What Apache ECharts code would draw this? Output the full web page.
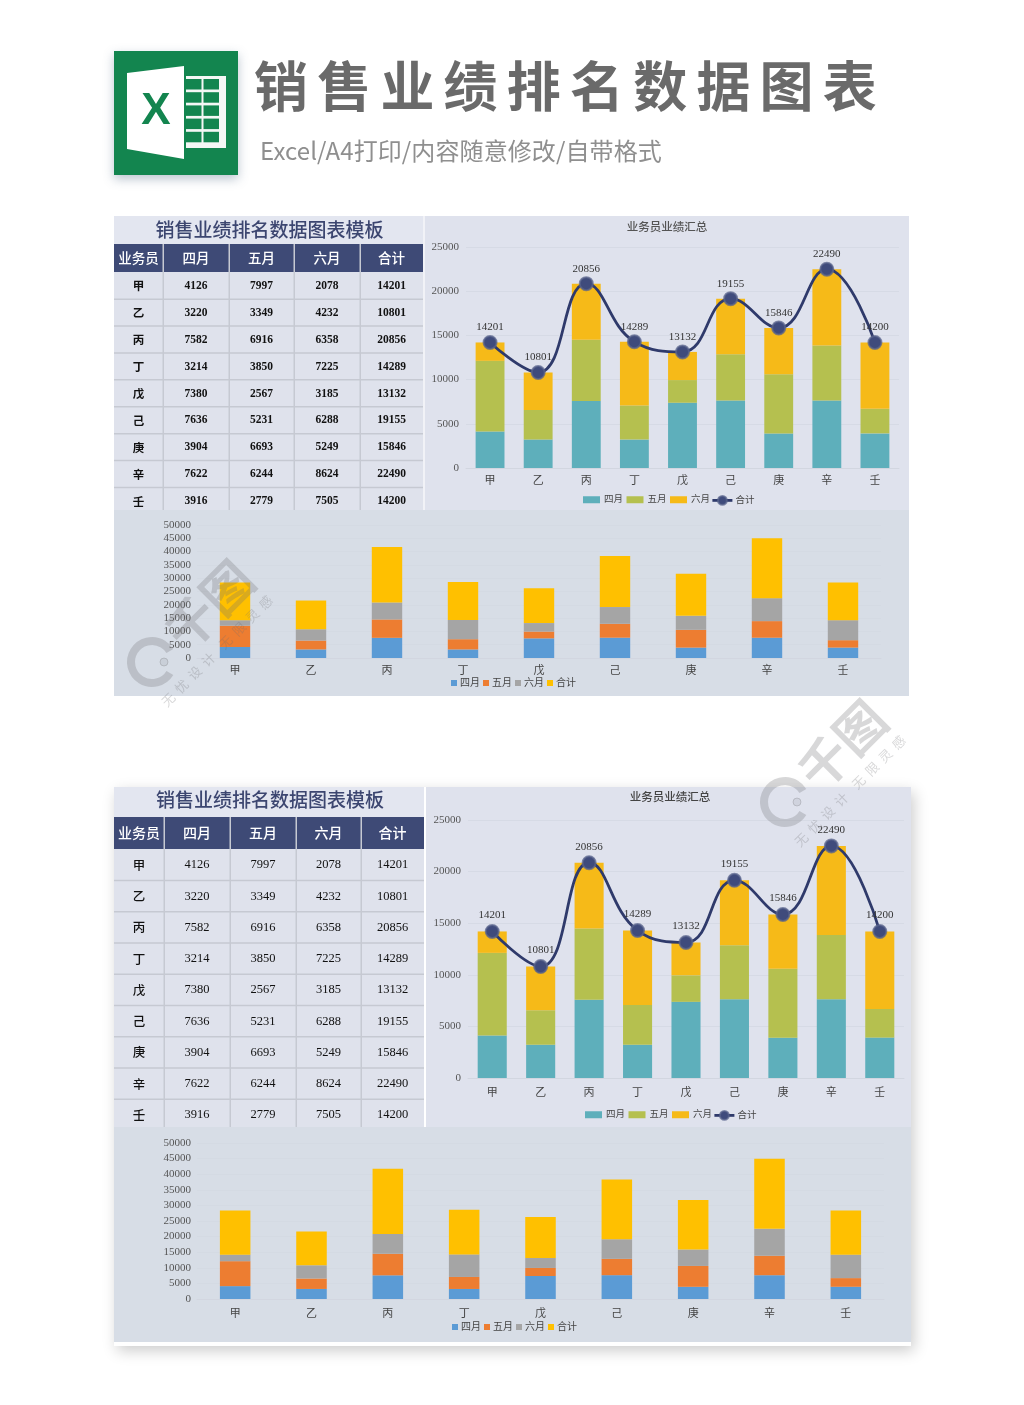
<!DOCTYPE html>
<html lang="zh">
<head>
<meta charset="utf-8">
<title>销售业绩排名数据图表</title>
<style>
html,body{margin:0;padding:0;background:#fff;}
#wrap{position:relative;width:1024px;height:1405px;overflow:hidden;}
#chart{position:absolute;left:0;top:0;width:1024px;height:1405px;}
h1{position:absolute;left:254px;top:46px;margin:0;font:700 54px/76px "Noto Sans CJK SC",sans-serif;letter-spacing:9.2px;color:#6a6a6a;white-space:nowrap;}
p{position:absolute;left:260px;top:132px;margin:0;font:400 24px/36px "Noto Sans CJK SC",sans-serif;letter-spacing:.1px;color:#8f8f8f;white-space:nowrap;}
</style>
</head>
<body>
<div id="wrap">
<div id="chart"></div>
<h1>销售业绩排名数据图表</h1>
<p>Excel/A4打印/内容随意修改/自带格式</p>
</div>
<script src="https://cdn.jsdelivr.net/npm/echarts@6/dist/echarts.min.js"></script>
<script>
var categories = ['甲','乙','丙','丁','戊','己','庚','辛','壬'];
var april = [4126,3220,7582,3214,7380,7636,3904,7622,3916];
var may   = [7997,3349,6916,3850,2567,5231,6693,6244,2779];
var june  = [2078,4232,6358,7225,3185,6288,5249,8624,7505];
var total = [14201,10801,20856,14289,13132,19155,15846,22490,14200];
var headers = ['业务员','四月','五月','六月','合计'];
var tableTitle = '销售业绩排名数据图表模板';
var chartTitle = '业务员业绩汇总';
var watermarkBrand = '千图';
var watermarkSlogan = '无  忧  设  计    无  限  灵  感';

var serifFont = '"Liberation Serif","Noto Sans CJK SC",serif';
var sansCJK = '"Noto Sans CJK SC",sans-serif';
var g = [];

function rect(x,y,w,h,fill,extra){
  var s = {fill:fill};
  if(extra) for(var k in extra) s[k]=extra[k];
  g.push({type:'rect',z:-5,silent:true,shape:{x:x,y:y,width:w,height:h},style:s});
}
function txt(t,x,y,font,fill,z){
  g.push({type:'text',z:z||-3,silent:true,style:{text:t,x:x,y:y,font:font,fill:fill,textAlign:'center',textVerticalAlign:'middle'}});
}
function table(cols,titleY,titleBottom,headBottom,rowH,panelBottom,headSize,cellFont,catFont,titleCy){
  var left=cols[0], right=cols[5];
  rect(left,titleY,right-left,titleBottom-titleY,'#e3e6f0');
  txt(tableTitle,(left+right)/2+1,titleCy,'500 19px '+sansCJK,'#3c4670');
  rect(left,titleBottom,right-left,headBottom-titleBottom,'#3e4a76');
  rect(left,headBottom,right-left,panelBottom-headBottom,'#dfe2ec');
  for(var c=0;c<5;c++){
    txt(headers[c],(cols[c]+cols[c+1])/2,(titleBottom+headBottom)/2,'500 '+headSize+'px '+sansCJK,'#ffffff');
  }
  for(var c2=1;c2<5;c2++){
    rect(cols[c2]-0.5,titleBottom,1.5,panelBottom-titleBottom,'#c6c9d2');
  }
  for(var i=0;i<9;i++){
    var y=headBottom+rowH*i;
    if(i>0) rect(left,y-0.5,right-left,1.5,'#c6c9d2');
    var cy=y+rowH/2+0.5;
    var row=[categories[i],april[i],may[i],june[i],total[i]];
    txt(String(row[0]),(cols[0]+cols[1])/2,cy,catFont,'#111');
    for(var j=1;j<5;j++) txt(String(row[j]),(cols[j]+cols[j+1])/2,cy,cellFont,'#111');
  }
}
function watermark(ox,oy){
  var stroke='rgba(110,110,115,0.27)';
  var z=20;
  g.push({type:'group',silent:true,x:ox,y:oy,children:[
    {type:'arc',z:z,shape:{cx:152,cy:662,r:21,startAngle:0.55,endAngle:-0.55,clockwise:true},style:{stroke:stroke,fill:null,lineWidth:8}},
    {type:'circle',z:z,shape:{cx:164,cy:662,r:4},style:{fill:'rgba(110,110,115,0.12)',stroke:stroke,lineWidth:1}},
    {type:'text',z:z,x:209,y:605,rotation:Math.PI/4,style:{text:watermarkBrand,font:'700 50px '+sansCJK,fill:stroke,textAlign:'center',textVerticalAlign:'middle'}},
    {type:'text',z:z,x:217,y:651,rotation:Math.PI/4,style:{text:watermarkSlogan,font:'400 13px '+sansCJK,fill:stroke,textAlign:'center',textVerticalAlign:'middle'}}
  ]});
}

/* page panels */
rect(114,787,797,559,'#ffffff',{shadowBlur:14,shadowColor:'rgba(0,0,0,0.2)',shadowOffsetY:5,shadowOffsetX:3});
rect(114,216,795,294,'#f1f2f7');
rect(425,216,484,294,'#dfe2ed');
rect(426,787,485,340,'#dfe2ed');
table([114,163,229,294,360,423],216,244,272,26.9,510,13.5,'700 11.5px '+serifFont,'700 11.5px '+sansCJK,230);
rect(114,510,795,186,'#d7dde6');
table([114,164,230,296,361,424],787,817,849,31.25,1127,14,'400 12.5px '+serifFont,'500 12.5px '+sansCJK,800);
rect(114,1127,797,215,'#d7dde6');

/* Excel logo */
rect(114,51,124,124,'#13854f',{shadowBlur:10,shadowColor:'rgba(60,90,120,0.35)',shadowOffsetY:4});
g.push({type:'rect',z:-4,silent:true,shape:{x:186,y:76,width:40,height:72},style:{fill:'#f4f7f5'}});
for(var r=0;r<5;r++){
  for(var c=0;c<2;c++){
    g.push({type:'rect',z:-3,silent:true,shape:{x:186+c*17.5,y:79+r*13.2,width:15.5,height:10.5},style:{fill:'#13854f'}});
  }
}
g.push({type:'polygon',z:-2,silent:true,shape:{points:[[127,73],[184,66],[184,159],[127,149]]},style:{fill:'#ffffff'}});
txt('X',156,112,'700 44px "Liberation Sans Narrow",sans-serif','#13854f',-1);

watermark(0,0);
watermark(633,140);

function plain(v){ return String(v); }
function tickAxis(gi,min,max,interval,margin,gridColor){
  return {gridIndex:gi,type:'value',min:min,max:max,interval:interval,
    axisLine:{show:false},axisTick:{show:false},
    axisLabel:{color:'#555',fontSize:11,fontFamily:serifFont,margin:margin,formatter:plain},
    splitLine:{lineStyle:{color:gridColor,width:1}}};
}
function catAxis(gi,margin){
  return {gridIndex:gi,type:'category',data:categories,
    axisLine:{lineStyle:{color:'#d2d6e0'}},axisTick:{show:false},
    axisLabel:{color:'#444',fontSize:11,fontFamily:serifFont,margin:margin}};
}
function bar(name,data,gi,stack,color,gap){
  return {name:name,type:'bar',xAxisIndex:gi,yAxisIndex:gi,stack:stack,data:data,
    barCategoryGap:gap,itemStyle:{color:color},silent:true,animation:false};
}
function line(gi,dist){
  return {name:'合计',type:'line',xAxisIndex:gi,yAxisIndex:gi,data:total,smooth:0.45,
    symbol:'circle',symbolSize:13,z:5,silent:true,animation:false,
    lineStyle:{color:'#2f3a6b',width:2.8},
    itemStyle:{color:'#3f4b7c',borderColor:'rgba(90,100,140,0.75)',borderWidth:2},
    label:{show:true,position:'top',distance:dist,color:'#333',fontSize:11,fontFamily:serifFont}};
}
var teal='#5eafbb',olive='#b5c04f',amber='#f6ba18';
var blue='#5b9bd5',orange='#ed7d31',grey='#a5a5a5',gold='#ffc000';
function upperSeries(gi,dist){
  var s='u'+gi;
  return [bar('四月',april,gi,s,teal,'40%'),bar('五月',may,gi,s,olive,'40%'),bar('六月',june,gi,s,amber,'40%'),line(gi,dist)];
}
function lowerSeries(gi){
  var s='l'+gi;
  return [bar('四月',april,gi,s,blue,'60%'),bar('五月',may,gi,s,orange,'60%'),bar('六月',june,gi,s,grey,'60%'),bar('合计',total,gi,s,gold,'60%')];
}
function upperLegend(left,top){
  return {left:left,top:top,selectedMode:false,itemWidth:17,itemHeight:7,itemGap:3.5,orient:'horizontal',padding:0,
    textStyle:{color:'#444',fontSize:9.5,fontFamily:serifFont,padding:[0,0,0,-1]},
    data:[{name:'四月',icon:'rect',itemStyle:{color:teal}},{name:'五月',icon:'rect',itemStyle:{color:olive}},{name:'六月',icon:'rect',itemStyle:{color:amber}}]};
}
function lineLegend(left,top){
  return {left:left,top:top,selectedMode:false,itemWidth:20,itemHeight:11,orient:'horizontal',padding:0,
    textStyle:{color:'#444',fontSize:9.5,fontFamily:serifFont,padding:[0,0,0,-2]},
    lineStyle:{width:2.8,color:'#2f3a6b'},
    data:[{name:'合计'}]};
}
function lowerLegend(left,top){
  return {left:left,top:top,selectedMode:false,itemWidth:6,itemHeight:6,itemGap:3,orient:'horizontal',padding:0,
    textStyle:{color:'#444',fontSize:10,fontFamily:serifFont,padding:[0,0,0,-2]},
    data:[{name:'四月',icon:'rect',itemStyle:{color:blue,borderWidth:0}},{name:'五月',icon:'rect',itemStyle:{color:orange,borderWidth:0}},{name:'六月',icon:'rect',itemStyle:{color:grey,borderWidth:0}},{name:'合计',icon:'rect',itemStyle:{color:gold,borderWidth:0}}]};
}
var chart = echarts.init(document.getElementById('chart'),null,{renderer:'canvas',width:1024,height:1405});
var faintUpper='rgba(205,210,222,0.5)', faintLower='rgba(205,211,222,0.35)';
chart.setOption({
  animation:false,
  backgroundColor:'#ffffff',
  textStyle:{fontFamily:serifFont},
  graphic:{elements:g},
  title:[
    {text:chartTitle,left:667,top:221,textAlign:'center',padding:0,textStyle:{fontSize:11.5,fontWeight:500,color:'#555',fontFamily:sansCJK}},
    {text:chartTitle,left:670,top:791,textAlign:'center',padding:0,textStyle:{fontSize:11.5,fontWeight:500,color:'#444',fontFamily:sansCJK}}
  ],
  legend:[upperLegend(583,495),lineLegend(711,495),lowerLegend(451,678),upperLegend(585,1110),lineLegend(713,1110),lowerLegend(452,1322)],
  grid:[
    {left:466,top:247,width:433,height:221,outerBoundsMode:'none'},
    {left:197,top:525,width:684,height:133,outerBoundsMode:'none'},
    {left:468,top:820,width:436,height:258,outerBoundsMode:'none'},
    {left:197,top:1143,width:687,height:156,outerBoundsMode:'none'}
  ],
  xAxis:[catAxis(0,8),catAxis(1,8),catAxis(2,10),catAxis(3,10)],
  yAxis:[tickAxis(0,0,25000,5000,7,faintUpper),tickAxis(1,0,50000,5000,6,faintLower),tickAxis(2,0,25000,5000,7,faintUpper),tickAxis(3,0,50000,5000,6,faintLower)],
  series:[].concat(upperSeries(0,2),lowerSeries(1),upperSeries(2,3),lowerSeries(3))
});
</script>
</body>
</html>
